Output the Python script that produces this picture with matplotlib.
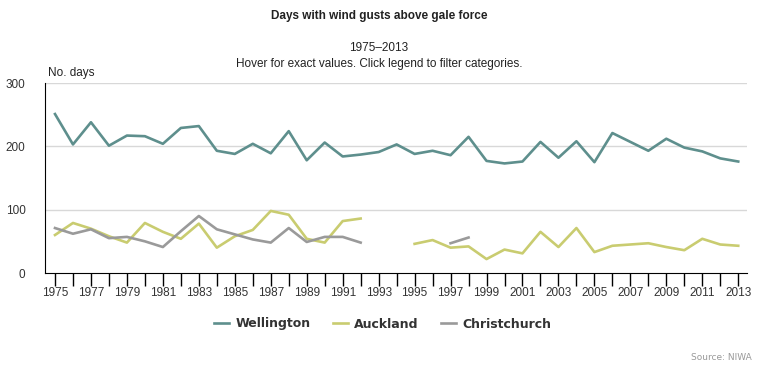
import numpy as np
import matplotlib
matplotlib.use("Agg")
import matplotlib.pyplot as plt

nan = np.nan

years = list(range(1975, 2014))

wellington = [251, 203, 238, 201, 217, 216, 204, 229, 232, 193,
              188, 204, 189, 224, 178, 206, 184, 187, 191, 203,
              188, 193, 186, 215, 177, 173, 176, 207, 182, 208,
              175, 221, 207, 193, 212, 198, 192, 181, 176]

auckland = [60, 79, 70, 58, 48, 79, 65, 54, 78, 40,
            58, 68, 98, 92, 54, 48, 82, 86, nan, nan,
            46, 52, 40, 42, 22, 37, 31, 65, 41, 71,
            33, 43, 45, 47, 41, 36, 54, 45, 43]

christchurch = [71, 62, 69, 55, 57, 50, 41, 66, 90, 69,
                61, 53, 48, 71, 49, 57, 57, 48, nan, nan,
                nan, nan, 47, 56, nan, nan, nan, nan, nan, nan,
                nan, nan, nan, nan, nan, nan, nan, nan, nan]

series = [("Wellington", wellington, "#5e8f8d"),
          ("Auckland", auckland, "#c9cc70"),
          ("Christchurch", christchurch, "#9a9a9a")]

y_ticks = [0, 100, 200, 300]
x_labels = years[::2]

plt.rcParams["font.family"] = ["Liberation Sans", "DejaVu Sans"]

fig = plt.figure(figsize=(7.58, 3.67), dpi=100)
ax = fig.add_axes([45 / 758, 1 - 273 / 367, (747 - 45) / 758, (273 - 83) / 367])

for name, vals, col in series:
    ax.plot(years, vals, color=col, lw=1.9, label=name)

ax.set_xlim(1975 - 10 / 17.98, 1975 + (747 - 55) / 17.98)
ax.set_ylim(0, 300)

# gridlines
for v in y_ticks[1:]:
    ax.axhline(v, color="#d8d8d8", lw=1, zorder=0)

ax.set_yticks(y_ticks)
ax.set_yticklabels([str(v) for v in y_ticks], fontsize=8.5, color="#333333")
ax.tick_params(axis="y", length=0, pad=14)

ax.set_xticks(years)
ax.set_xticklabels([str(y) if y in x_labels else "" for y in years],
                   fontsize=8.5, color="#333333")
ax.tick_params(axis="x", length=9, width=1, color="black", pad=1)

for s in ["top", "right"]:
    ax.spines[s].set_visible(False)
ax.spines["left"].set_color("black")
ax.spines["bottom"].set_color("black")

fig.text(0.5, 1 - 16 / 367, "Days with wind gusts above gale force",
         ha="center", va="center", fontsize=8.5, fontweight="bold", color="#222222")
fig.text(0.5, 1 - 48 / 367, "1975\u20132013", ha="center", va="center",
         fontsize=8.5, color="#222222")
fig.text(0.5, 1 - 64 / 367, "Hover for exact values. Click legend to filter categories.",
         ha="center", va="center", fontsize=8.5, color="#222222")
fig.text(48 / 758, 1 - 73 / 367, "No. days", ha="left", va="center",
         fontsize=8.5, color="#222222")
fig.text(752 / 758, 1 - 358 / 367, "Source: NIWA", ha="right", va="center",
         fontsize=6.5, color="#999999", family="DejaVu Sans")

leg = fig.legend(loc="center", bbox_to_anchor=(383 / 758, 1 - 324 / 367), ncol=3,
                 frameon=False, handlelength=1.2, handletextpad=0.5, columnspacing=1.8,
                 prop={"family": "DejaVu Sans", "weight": "bold", "size": 9})
for t in leg.get_texts():
    t.set_color("#333333")

fig.savefig("out.png", dpi=100)
